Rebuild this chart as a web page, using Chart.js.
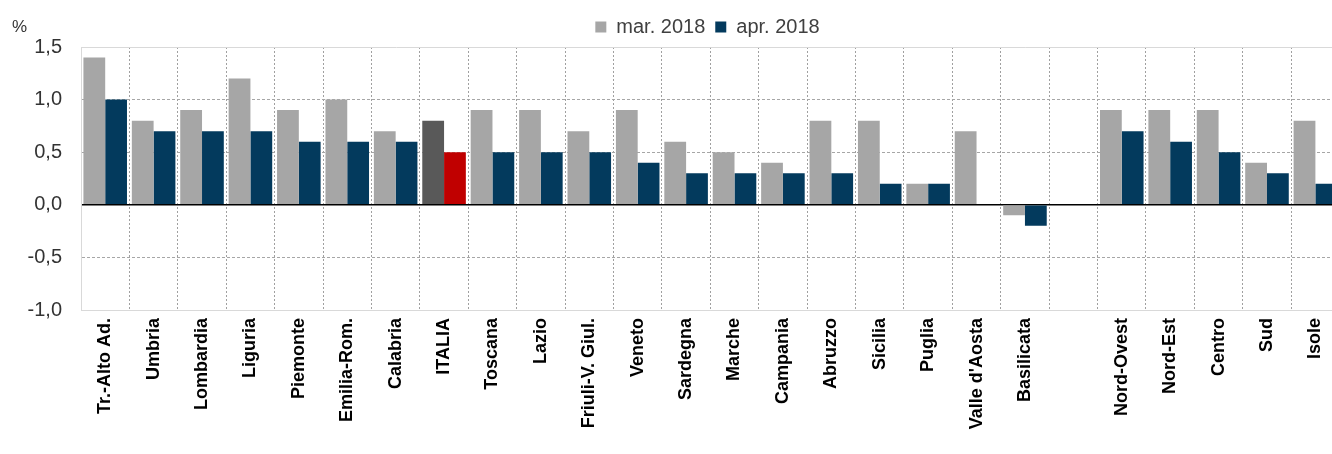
<!DOCTYPE html>
<html>
<head>
<meta charset="utf-8">
<script src="https://cdn.jsdelivr.net/npm/chart.js@4.4.1/dist/chart.umd.min.js"></script>
<style>
  html, body { margin: 0; padding: 0; overflow: hidden; background: #fff; }
  #wrap { width: 1345px; height: 454px; }
</style>
</head>
<body>
<div id="wrap"><canvas id="regions"></canvas></div>
<script>
const regions = ["Tr.-Alto Ad.", "Umbria", "Lombardia", "Liguria", "Piemonte", "Emilia-Rom.", "Calabria", "ITALIA",
  "Toscana", "Lazio", "Friuli-V. Giul.", "Veneto", "Sardegna", "Marche", "Campania", "Abruzzo", "Sicilia", "Puglia",
  "Valle d'Aosta", "Basilicata", "", "Nord-Ovest", "Nord-Est", "Centro", "Sud", "Isole"];
const mar2018 = [1.4, 0.8, 0.9, 1.2, 0.9, 1.0, 0.7, 0.8, 0.9, 0.9, 0.7, 0.9, 0.6, 0.5, 0.4, 0.8, 0.8, 0.2, 0.7, -0.1, null, 0.9, 0.9, 0.9, 0.4, 0.8];
const apr2018 = [1.0, 0.7, 0.7, 0.7, 0.6, 0.6, 0.6, 0.5, 0.5, 0.5, 0.5, 0.4, 0.3, 0.3, 0.3, 0.3, 0.2, 0.2, 0.0, -0.2, null, 0.7, 0.6, 0.5, 0.3, 0.2];
const seriesNames = ["mar. 2018", "apr. 2018"];
const yMin = -1.0, yMax = 1.5, yStep = 0.5;

const sans = "'Liberation Sans', Arial, sans-serif";
const GRAY = '#A6A6A6', NAVY = '#033A5D', DARK = '#595959', RED = '#C00000';

// "%" unit label top-left
const percentLabel = {
  id: 'percentLabel',
  afterDraw: (chart) => {
    const {ctx} = chart;
    ctx.save();
    ctx.font = "17px " + sans;
    ctx.fillStyle = '#333';
    ctx.textBaseline = 'middle';
    ctx.fillText('%', 12, 27);
    ctx.restore();
  }
};

// legend sits a bit right of the canvas centre in the original
const legendShift = {
  id: 'legendShift',
  afterLayout: (chart) => {
    chart.legend.left += 35;
    chart.legend.right += 35;
  }
};

const regionChart = new Chart(document.getElementById('regions'), {
  type: 'bar',
  data: {
    labels: regions,
    datasets: [
      {
        label: seriesNames[0],
        data: mar2018,
        backgroundColor: (c) => c.type === 'data' && regions[c.dataIndex] === 'ITALIA' ? DARK : GRAY
      },
      {
        label: seriesNames[1],
        data: apr2018,
        backgroundColor: (c) => c.type === 'data' && regions[c.dataIndex] === 'ITALIA' ? RED : NAVY
      }
    ]
  },
  options: {
    animation: false,
    responsive: true,
    maintainAspectRatio: false,
    categoryPercentage: 0.9,
    barPercentage: 1.0,
    layout: { padding: { left: 0, top: 7, right: 0, bottom: 0 } },
    plugins: {
      tooltip: { enabled: false },
      legend: {
        position: 'top',
        labels: {
          boxWidth: 11,
          boxHeight: 11,
          padding: 10,
          color: '#404040',
          font: { family: sans, size: 20 }
        }
      }
    },
    scales: {
      x: {
        afterFit: (s) => { s.height = 144; },
        grid: {
          offset: true,
          drawTicks: false,
          color: '#A0A0A0',
          lineWidth: 1
        },
        border: { display: true, color: '#D9D9D9', width: 1, dash: [2, 2] },
        ticks: {
          autoSkip: false,
          maxRotation: 90,
          minRotation: 90,
          padding: 8,
          color: '#000',
          font: { family: sans, size: 18, weight: 'bold' }
        }
      },
      y: {
        min: yMin,
        max: yMax,
        afterFit: (s) => { s.width = 81; },
        ticks: {
          stepSize: yStep,
          padding: 19,
          color: '#333',
          font: { family: sans, size: 20 },
          callback: (v) => Number(v).toFixed(1).replace('.', ',')
        },
        grid: {
          drawTicks: false,
          color: (c) => c.tick && c.tick.value === 0 ? '#000' : (c.tick && (c.tick.value === yMax || c.tick.value === yMin) ? '#D9D9D9' : '#A6A6A6'),
          lineWidth: (c) => c.tick && c.tick.value === 0 ? 1.5 : 1
        },
        border: {
          display: true,
          color: '#D9D9D9',
          width: 1,
          dash: (c) => c.tick && (c.tick.value === 0 || c.tick.value === yMax || c.tick.value === yMin) ? [] : [3, 2]
        }
      }
    }
  },
  plugins: [percentLabel, legendShift]
});
</script>
</body>
</html>
